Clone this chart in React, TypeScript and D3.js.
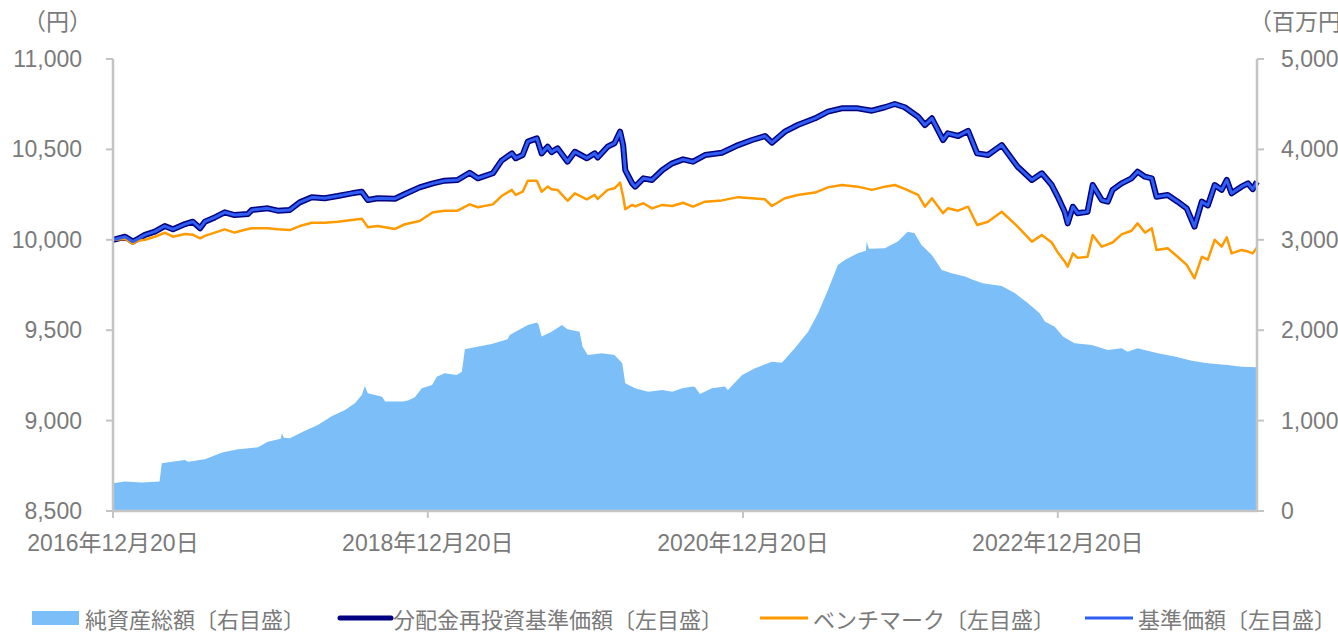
import { scaleLinear, scaleTime, line, area, format, timeParse, timeFormat } from "d3";

// 基準価額・ベンチマーク（円）
const lineDates = [
  "2016-12-20", "2017-01-17", "2017-02-04", "2017-02-16", "2017-03-04", "2017-03-27", "2017-04-19", "2017-05-08",
  "2017-06-05", "2017-06-23", "2017-07-10", "2017-07-21", "2017-08-13", "2017-09-05", "2017-09-28", "2017-10-29",
  "2017-11-07", "2017-12-14", "2018-01-06", "2018-02-03", "2018-02-26", "2018-03-26", "2018-04-25", "2018-05-25",
  "2018-06-27", "2018-07-20", "2018-08-03", "2018-08-26", "2018-10-05", "2018-10-28", "2018-12-01", "2019-01-01",
  "2019-01-28", "2019-02-27", "2019-03-27", "2019-04-15", "2019-05-20", "2019-06-09", "2019-07-03", "2019-07-12",
  "2019-07-28", "2019-08-09", "2019-08-30", "2019-09-10", "2019-09-24", "2019-10-03", "2019-10-17", "2019-11-09",
  "2019-11-26", "2019-12-24", "2020-01-11", "2020-01-18", "2020-02-10", "2020-02-26", "2020-03-10", "2020-03-17",
  "2020-03-22", "2020-04-07", "2020-04-14", "2020-05-03", "2020-05-23", "2020-06-16", "2020-07-09", "2020-08-03",
  "2020-08-26", "2020-09-23", "2020-11-01", "2020-12-09", "2021-01-10", "2021-02-09", "2021-02-25", "2021-03-27",
  "2021-04-26", "2021-06-05", "2021-07-05", "2021-08-06", "2021-09-12", "2021-10-15", "2021-11-14", "2021-12-07",
  "2021-12-30", "2022-01-30", "2022-02-15", "2022-03-03", "2022-03-29", "2022-04-09", "2022-05-03", "2022-05-26",
  "2022-06-16", "2022-07-11", "2022-08-12", "2022-09-18", "2022-10-21", "2022-11-13", "2022-12-06", "2022-12-20",
  "2023-01-05", "2023-01-12", "2023-01-24", "2023-02-04", "2023-02-27", "2023-03-11", "2023-04-01", "2023-04-15",
  "2023-04-26", "2023-05-17", "2023-06-09", "2023-06-23", "2023-07-10", "2023-07-26", "2023-08-06", "2023-09-01",
  "2023-09-24", "2023-10-15", "2023-11-02", "2023-11-19", "2023-12-03", "2023-12-19", "2024-01-04", "2024-01-16",
  "2024-01-27", "2024-02-19", "2024-03-05", "2024-03-16", "2024-03-26",
];

const navValues = [
  10000, 10017, 9990, 10005, 10027, 10045, 10076, 10058, 10087, 10100, 10064, 10100, 10124, 10152, 10137, 10143,
  10165, 10174, 10161, 10165, 10207, 10235, 10230, 10242, 10257, 10266, 10220, 10230, 10227, 10253, 10290, 10312,
  10327, 10331, 10371, 10340, 10368, 10438, 10478, 10451, 10469, 10543, 10561, 10478, 10515, 10485, 10506, 10432,
  10487, 10451, 10478, 10455, 10515, 10534, 10598, 10524, 10386, 10312, 10294, 10340, 10331, 10386, 10423, 10445,
  10432, 10469, 10482, 10524, 10552, 10574, 10537, 10598, 10635, 10672, 10709, 10727, 10727, 10714, 10733, 10751,
  10733, 10681, 10635, 10672, 10552, 10589, 10574, 10603, 10478, 10469, 10524, 10404, 10331, 10368, 10303, 10238,
  10155, 10091, 10183, 10147, 10155, 10303, 10220, 10211, 10276, 10312, 10340, 10377, 10349, 10340, 10238, 10248,
  10211, 10174, 10073, 10211, 10190, 10303, 10276, 10331, 10257, 10294, 10312, 10280, 10321,
];

// 分配実績なしのため基準価額と同じ値
const reinvestValues = navValues;

const benchValues = [
  10000, 10005, 9978, 9995, 10000, 10017, 10039, 10017, 10032, 10028, 10008, 10022, 10040, 10058, 10040, 10060,
  10064, 10064, 10058, 10054, 10076, 10094, 10094, 10100, 10110, 10117, 10069, 10076, 10060, 10086, 10104, 10152,
  10161, 10161, 10196, 10180, 10196, 10242, 10276, 10248, 10266, 10327, 10327, 10266, 10294, 10280, 10276, 10216,
  10257, 10224, 10248, 10226, 10276, 10285, 10316, 10240, 10169, 10193, 10185, 10202, 10174, 10193, 10187, 10205,
  10183, 10211, 10218, 10236, 10230, 10224, 10187, 10230, 10248, 10261, 10290, 10303, 10294, 10276, 10294, 10303,
  10282, 10248, 10183, 10230, 10147, 10174, 10161, 10183, 10082, 10100, 10155, 10073, 9990, 10026, 9985, 9930,
  9880, 9851, 9925, 9900, 9906, 10026, 9962, 9975, 9985, 10030, 10050, 10091, 10040, 10064, 9944, 9953,
  9906, 9861, 9787, 9906, 9890, 10000, 9962, 10014, 9925, 9944, 9935, 9925, 9958,
];

// 純資産総額（百万円）
const assetDates = [
  "2016-12-20", "2017-01-17", "2017-02-25", "2017-04-07", "2017-04-12", "2017-05-06", "2017-06-05", "2017-06-12",
  "2017-07-21", "2017-08-30", "2017-10-06", "2017-11-21", "2017-12-14", "2018-01-13", "2018-01-16", "2018-01-20",
  "2018-02-03", "2018-03-10", "2018-04-09", "2018-05-12", "2018-06-11", "2018-07-04", "2018-07-20", "2018-07-27",
  "2018-08-03", "2018-09-05", "2018-09-12", "2018-10-23", "2018-11-04", "2018-11-20", "2018-12-06", "2018-12-30",
  "2019-01-10", "2019-01-28", "2019-02-25", "2019-03-09", "2019-03-16", "2019-04-08", "2019-05-17", "2019-06-23",
  "2019-06-28", "2019-08-09", "2019-08-30", "2019-09-03", "2019-09-10", "2019-10-03", "2019-10-27", "2019-11-09",
  "2019-12-07", "2019-12-14", "2019-12-26", "2020-01-27", "2020-02-26", "2020-03-15", "2020-03-22", "2020-04-14",
  "2020-05-14", "2020-06-16", "2020-07-09", "2020-08-01", "2020-08-26", "2020-08-31", "2020-09-11", "2020-10-09",
  "2020-11-08", "2020-11-15", "2020-12-18", "2021-01-17", "2021-02-25", "2021-03-20", "2021-04-19", "2021-05-20",
  "2021-06-12", "2021-07-05", "2021-07-28", "2021-08-13", "2021-09-12", "2021-10-01", "2021-10-03", "2021-10-08",
  "2021-11-14", "2021-12-14", "2022-01-06", "2022-01-22", "2022-02-07", "2022-03-03", "2022-03-26", "2022-04-18",
  "2022-05-19", "2022-06-03", "2022-06-29", "2022-07-11", "2022-08-12", "2022-09-12", "2022-10-12", "2022-11-08",
  "2022-11-20", "2022-12-13", "2023-01-01", "2023-01-28", "2023-03-09", "2023-04-15", "2023-05-17", "2023-05-31",
  "2023-06-23", "2023-08-09", "2023-09-17", "2023-10-27", "2023-12-03", "2024-01-18", "2024-02-19", "2024-03-26",
];

const assetValues = [
  307, 325, 314, 325, 529, 546, 565, 545, 572, 646, 683, 705, 767, 800, 860, 810,
  805, 889, 952, 1052, 1118, 1192, 1284, 1383, 1303, 1265, 1210, 1210, 1221, 1258, 1358, 1394,
  1486, 1524, 1505, 1541, 1789, 1811, 1848, 1900, 1948, 2058, 2084, 2060, 1929, 1984, 2058, 2010,
  1984, 1818, 1726, 1745, 1726, 1634, 1413, 1358, 1320, 1339, 1320, 1358, 1376, 1370, 1295, 1358,
  1376, 1339, 1505, 1579, 1652, 1641, 1800, 1984, 2187, 2445, 2722, 2777, 2851, 2880, 2980, 2900,
  2906, 2980, 3090, 3072, 2943, 2832, 2666, 2630, 2593, 2564, 2519, 2512, 2489, 2409, 2298, 2187,
  2095, 2039, 1929, 1855, 1837, 1782, 1800, 1763, 1800, 1745, 1708, 1663, 1634, 1615, 1597, 1590,
];

const leftTicks = [8500, 9000, 9500, 10000, 10500, 11000];
const rightTicks = [0, 1000, 2000, 3000, 4000, 5000];
const dateTicks = ["2016-12-20", "2018-12-20", "2020-12-20", "2022-12-20"];
const startDate = "2016-12-20";
const endDate = "2024-03-26";

const legendLabels = ["純資産総額〔右目盛〕", "分配金再投資基準価額〔左目盛〕", "ベンチマーク〔左目盛〕", "基準価額〔左目盛〕"];

const COLORS = {
  asset: "#7cbff8",
  reinvest: "#000080",
  bench: "#ff9a00",
  nav: "#2f5ef2",
  axis: "#c4c4c4",
  text: "#7a7a7a",
};

const FONT = "'Liberation Sans', Arial, 'Noto Sans CJK JP', sans-serif";
const CJK_FONT = "'Noto Sans CJK JP', sans-serif";

const W = 1338;
const H = 632;
const margin = { top: 59, right: 81, bottom: 121, left: 113 };

export default function App() {
  const parse = timeParse("%Y-%m-%d");
  const fmtDate = timeFormat("%Y年%m月%d日");
  const fmtNum = format(",");

  const innerW = W - margin.left - margin.right;
  const innerH = H - margin.top - margin.bottom;

  const x = scaleTime()
    .domain([parse(startDate), parse(endDate)])
    .range([margin.left, margin.left + innerW]);
  const yLeft = scaleLinear().domain([8500, 11000]).range([margin.top + innerH, margin.top]);
  const yRight = scaleLinear().domain([0, 5000]).range([margin.top + innerH, margin.top]);

  const lineRows = lineDates.map((d, i) => ({
    date: parse(d),
    nav: navValues[i],
    reinvest: reinvestValues[i],
    bench: benchValues[i],
  }));
  const assetRows = assetDates.map((d, i) => ({ date: parse(d), value: assetValues[i] }));

  const assetArea = area<any>()
    .x(d => x(d.date))
    .y0(yRight(0))
    .y1(d => yRight(d.value));
  const lineOf = (key: string) => line<any>().x(d => x(d.date)).y(d => yLeft(d[key]));

  const baseY = margin.top + innerH;
  const rightX = margin.left + innerW;

  // legend: swatch start positions, text follows each swatch
  const legendX = [32, 340, 760, 1085];
  const legendY = 618;

  return (
    <svg width={W} height={H} style={{ position: "absolute", left: 0, top: 0, background: "#fff" }}>
      {/* 純資産総額 */}
      <path d={assetArea(assetRows) || ""} fill={COLORS.asset} />

      {/* lines */}
      <path d={lineOf("reinvest")(lineRows) || ""} fill="none" stroke={COLORS.reinvest} strokeWidth={6} strokeLinejoin="round" />
      <path d={lineOf("bench")(lineRows) || ""} fill="none" stroke={COLORS.bench} strokeWidth={2.5} strokeLinejoin="round" />
      <path d={lineOf("nav")(lineRows) || ""} fill="none" stroke={COLORS.nav} strokeWidth={3} strokeLinejoin="round" />

      {/* left axis */}
      <line x1={margin.left} x2={margin.left} y1={margin.top} y2={baseY} stroke={COLORS.axis} strokeWidth={2.5} />
      {leftTicks.map(t => (
        <g key={"l" + t}>
          <line x1={margin.left - 7} x2={margin.left} y1={yLeft(t)} y2={yLeft(t)} stroke={COLORS.axis} strokeWidth={2} />
          <text x={82} y={yLeft(t)} textAnchor="end" dominantBaseline="central" fontFamily={FONT} fontSize={23} fill={COLORS.text}>
            {fmtNum(t)}
          </text>
        </g>
      ))}

      {/* right axis */}
      <line x1={rightX} x2={rightX} y1={margin.top} y2={baseY} stroke={COLORS.axis} strokeWidth={2.5} />
      {rightTicks.map(t => (
        <g key={"r" + t}>
          <line x1={rightX} x2={rightX + 7} y1={yRight(t)} y2={yRight(t)} stroke={COLORS.axis} strokeWidth={2} />
          <text x={1281} y={yRight(t)} textAnchor="start" dominantBaseline="central" fontFamily={FONT} fontSize={23} fill={COLORS.text}>
            {fmtNum(t)}
          </text>
        </g>
      ))}

      {/* bottom axis */}
      <line x1={margin.left} x2={rightX} y1={baseY} y2={baseY} stroke={COLORS.axis} strokeWidth={2.5} />
      {dateTicks.map(d => (
        <g key={d}>
          <line x1={x(parse(d))} x2={x(parse(d))} y1={baseY} y2={baseY + 7} stroke={COLORS.axis} strokeWidth={2} />
          <text x={x(parse(d))} y={543} textAnchor="middle" dominantBaseline="central" fontFamily={FONT} fontSize={23} fill={COLORS.text}>
            {fmtDate(parse(d))}
          </text>
        </g>
      ))}

      {/* unit labels */}
      <text x={23} y={20} dominantBaseline="central" fontFamily={CJK_FONT} fontSize={23} fill={COLORS.text}>（円）</text>
      <text x={1249} y={20} dominantBaseline="central" fontFamily={CJK_FONT} fontSize={23} fill={COLORS.text}>（百万円）</text>

      {/* legend */}
      <rect x={legendX[0]} y={legendY - 7} width={47} height={14} fill={COLORS.asset} />
      <line x1={legendX[1]} x2={legendX[1] + 51} y1={legendY} y2={legendY} stroke={COLORS.reinvest} strokeWidth={5} strokeLinecap="round" />
      <line x1={legendX[2]} x2={legendX[2] + 48} y1={legendY} y2={legendY} stroke={COLORS.bench} strokeWidth={3} />
      <line x1={legendX[3]} x2={legendX[3] + 48} y1={legendY} y2={legendY} stroke={COLORS.nav} strokeWidth={3} />
      {legendLabels.map((label, i) => (
        <text key={label} x={legendX[i] + 53} y={legendY} dominantBaseline="central" fontFamily={CJK_FONT} fontSize={22} fill={COLORS.text}>
          {label}
        </text>
      ))}
    </svg>
  );
}
